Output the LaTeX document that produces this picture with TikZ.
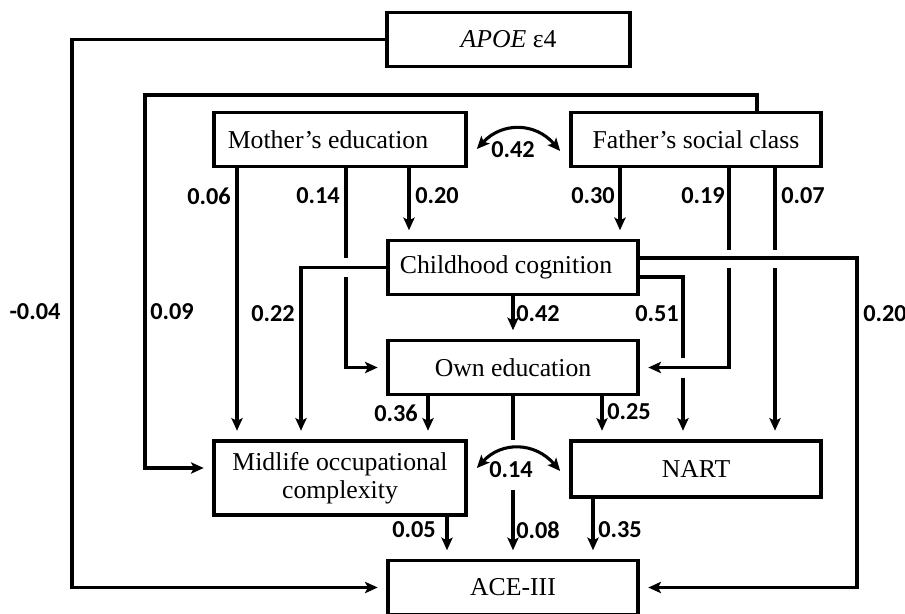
\documentclass[tikz,border=0pt]{standalone}
\usepackage{fontspec}
\setmainfont{Liberation Serif}
\newfontfamily\numfont{Carlito}
\usetikzlibrary{arrows.meta}

\begin{document}
\begin{tikzpicture}[x=0.025cm, y=-0.025cm,
    box/.style={draw, line width=2.6pt, fill=white, inner sep=0pt,
        minimum width=6.25cm, minimum height=1.35cm,
        font=\fontsize{18.3}{20}\selectfont},
    conn/.style={line width=2.2pt},
    arr/.style={conn, -{Stealth[length=9pt, width=8pt, inset=2pt]}, shorten >=6pt},
    corr/.style={conn, {Stealth[length=9pt, width=8pt, inset=2pt]}-{Stealth[length=9pt, width=8pt, inset=2pt]}},
    wt/.style={font=\numfont\bfseries\fontsize{17.3}{20}\selectfont, inner sep=0pt}]
    \useasboundingbox (0,0) rectangle (905,613);

    % boxes
    \node[box, minimum width=6.075cm] (apoe) at (508.5,39.5) {\textit{APOE} ε4};
    \node[box, minimum width=6.3cm] (moth) at (340,139.5) {Mother’s education\hspace*{0.6cm}};
    \node[box] (fath) at (696,139.5) {Father’s social class};
    \node[box] (child) at (513,267.5) {Childhood cognition\hspace*{0.35cm}};
    \node[box] (own) at (513,367.5) {Own education};
    \node[box, minimum width=6.3cm, minimum height=1.85cm, align=center] (mid) at (340,478)
        {Midlife occupational\\complexity};
    \node[box, minimum height=1.4cm] (nart) at (696,469) {NART};
    \node[box] (ace) at (513,587.5) {ACE-III};

    % APOE
    \draw[arr] (apoe.west) -- (apoe.west -| 72,0) -- (ace.west -| 72,0) -- (ace.west);

    % father -> midlife
    \draw[arr] (fath.north -| 757,0) -- (757,95) -- (145,95) -- (145,468)
        -- ([shift={(0,-10)}]mid.west);

    % mother
    \draw[arr] (moth.south -| 237,0) -- (mid.north -| 237,0);
    \draw[conn] (moth.south -| 346,0) -- (346,258);
    \draw[arr] (346,277) |- (own.west);
    \draw[arr] (moth.south -| 409,0) -- (child.north -| 409,0);

    % father
    \draw[arr] (fath.south -| 620,0) -- (child.north -| 620,0);
    \draw[conn] (fath.south -| 729,0) -- (729,250);
    \draw[arr] (729,268) |- (own.east);
    \draw[conn] (fath.south -| 775,0) -- (775,250);
    \draw[arr] (775,268) -- (nart.north -| 775,0);

    % childhood cognition
    \draw[arr] ([shift={(0,-9.5)}]child.east) -| (ace.east -| 857,0) -- (ace.east);
    \draw[conn] ([shift={(0,9.5)}]child.east) -| (683,358);
    \draw[arr] (683,378) -- (nart.north -| 683,0);
    \draw[arr] (child.west) -| (mid.north -| 301,0);
    \draw[arr] (child.south) -- (own.north);

    % own education
    \draw[arr] (own.south -| 428,0) -- (mid.north -| 428,0);
    \draw[arr] (own.south -| 602,0) -- (nart.north -| 602,0);
    \draw[conn] (own.south) -- (513,440);
    \draw[arr] (513,490) -- (ace.north);

    % to ACE-III
    \draw[arr] (mid.south -| 447,0) -- (ace.north -| 447,0);
    \draw[arr] (nart.south -| 593,0) -- (ace.north -| 593,0);

    % correlations
    \draw[corr] ([shift={(9,9.5)}]moth.east) .. controls +(25,-27) and +(-25,-29) .. ([shift={(-9,11.5)}]fath.west);
    \draw[corr] ([shift={(9,-10)}]mid.east) .. controls +(25,-27) and +(-25,-29) .. ([shift={(-9,2)}]nart.west);

    % weights
    \node[wt] (wapoe) at (35,312) {-0.04};
    \node[wt] (wfmid) at (172,312) {0.09};
    \node[wt] (wmmid) at (209,196) {0.06};
    \node[wt] (wmown) at (318,196) {0.14};
    \node[wt] (wmchd) at (437,196) {0.20};
    \node[wt] (wfchd) at (593,196) {0.30};
    \node[wt] (wfown) at (703,196) {0.19};
    \node[wt] (wfnrt) at (803,196) {0.07};
    \node[wt] (wcmid) at (273,314) {0.22};
    \node[wt] (wcown) at (538,314) {0.42};
    \node[wt] (wcnrt) at (657,314) {0.51};
    \node[wt] (wcace) at (885,314) {0.20};
    \node[wt] (womid) at (396,413) {0.36};
    \node[wt] (wonrt) at (629,412) {0.25};
    \node[wt] (wmace) at (414,530) {0.05};
    \node[wt] (woace) at (538,530) {0.08};
    \node[wt] (wnace) at (620,530) {0.35};
    \node[wt] (wmf) at (513,150) {0.42};
    \node[wt] (wmn) at (511,470) {0.14};
\end{tikzpicture}
\end{document}
